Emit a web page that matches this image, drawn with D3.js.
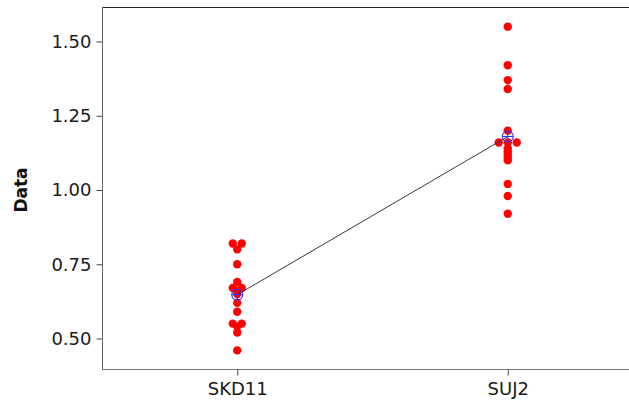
<!DOCTYPE html>
<html>
<head>
<meta charset="utf-8">
<script src="https://cdn.jsdelivr.net/npm/d3@7"></script>
<style>
	body { margin: 0; background: #fff; }
	svg { display: block; }
</style>
</head>
<body>
<svg id="chart" width="629" height="403"></svg>
<script>
const categories = ['SKD11', 'SUJ2'];
const skd11 = [0.82, 0.82, 0.80, 0.75, 0.69, 0.67, 0.67, 0.66, 0.65, 0.62, 0.59, 0.55, 0.55, 0.54, 0.52, 0.46];
const suj2 = [1.55, 1.42, 1.37, 1.34, 1.20, 1.16, 1.16, 1.16, 1.14, 1.13, 1.12, 1.11, 1.10, 1.02, 0.98, 0.92];
const yTicks = [0.5, 0.75, 1.0, 1.25, 1.5];
const yLabel = 'Data';

const series = [skd11, suj2];

const margin = { top: 7, left: 102, bottom: 370 };
const dotR = 4.2;
const dotGap = 9;

const svg = d3.select('#chart');

const x = d3
	.scalePoint()
	.domain(categories)
	.range([margin.left, 643])
	.padding(0.5);

const y = d3
	.scaleLinear()
	.domain([0.3973, 1.6162])
	.range([margin.bottom - 1, margin.top]);

// marco superior
svg
	.append('line')
	.attr('x1', margin.left)
	.attr('x2', 629)
	.attr('y1', margin.top + 0.5)
	.attr('y2', margin.top + 0.5)
	.attr('stroke', '#222')
	.attr('stroke-width', 1);

const yAxis = d3
	.axisLeft(y)
	.tickValues(yTicks)
	.tickFormat(d3.format('.2f'))
	.tickSize(6)
	.tickPadding(5);

const gy = svg
	.append('g')
	.attr('transform', `translate(${margin.left + 0.5}, 0)`)
	.call(yAxis);

const xAxis = d3
	.axisBottom(x)
	.tickSize(6)
	.tickPadding(7);

const gx = svg
	.append('g')
	.attr('transform', `translate(0, ${margin.bottom - 0.5})`)
	.call(xAxis);

[gx, gy].forEach(g => {
	g.selectAll('.tick line').attr('stroke', '#444');
	g
		.selectAll('.tick text')
		.attr('fill', '#1a1a1a')
		.style('font-family', 'DejaVu Sans, sans-serif')
		.style('font-size', '18px');
});

// dominios a mano para que lleguen a los bordes
gy
	.select('.domain')
	.attr('stroke', '#666')
	.attr('d', `M0,${margin.top}V${margin.bottom}`);
gx
	.select('.domain')
	.attr('stroke', '#777')
	.attr('d', `M${margin.left},0H629`);

svg
	.append('text')
	.attr('transform', `translate(27, ${y(1.0)}) rotate(-90)`)
	.attr('text-anchor', 'middle')
	.style('font-family', 'DejaVu Sans, sans-serif')
	.style('font-size', '17px')
	.style('font-weight', 'bold')
	.attr('fill', '#111')
	.text(yLabel);

// Puntos: valores repetidos se reparten en fila horizontal
const puntos = [];
series.forEach((valores, i) => {
	const grupos = d3.group(valores, v => v);
	grupos.forEach((lista, v) => {
		lista.forEach((d, k) => {
			puntos.push({
				cat: categories[i],
				value: v,
				offset: (k - (lista.length - 1) / 2) * dotGap
			});
		});
	});
});

svg
	.append('g')
	.selectAll('circle')
	.data(puntos)
	.join('circle')
	.attr('cx', d => x(d.cat) + d.offset)
	.attr('cy', d => y(d.value))
	.attr('r', dotR)
	.attr('fill', '#ff0000');

const medias = series.map((valores, i) => ({ cat: categories[i], value: d3.mean(valores) }));

const line = d3
	.line()
	.x(d => x(d.cat))
	.y(d => y(d.value));

svg
	.append('path')
	.datum(medias)
	.attr('fill', 'none')
	.attr('stroke', '#222')
	.attr('stroke-width', 0.9)
	.attr('d', line);

const simbolo = svg
	.append('g')
	.selectAll('g')
	.data(medias)
	.join('g')
	.attr('transform', d => `translate(${x(d.cat)}, ${y(d.value)})`);

simbolo
	.append('circle')
	.attr('r', 5.5)
	.attr('fill', 'none')
	.attr('stroke', '#3333ff')
	.attr('stroke-width', 1.1);

simbolo
	.append('path')
	.attr('d', 'M-5.5,0H5.5M0,-5.5V5.5')
	.attr('stroke', '#3333ff')
	.attr('stroke-width', 1.1);
</script>
</body>
</html>
